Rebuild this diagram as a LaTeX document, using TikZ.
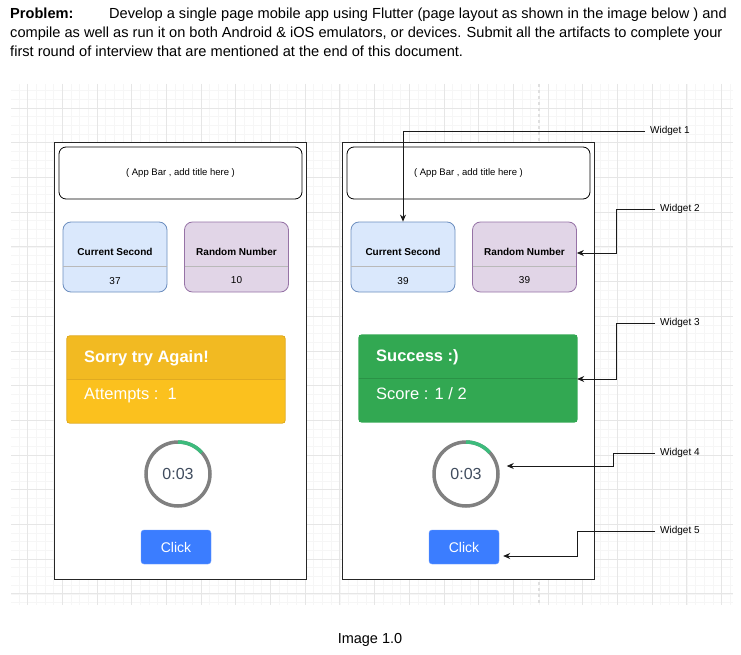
\documentclass[tikz,border=0pt]{standalone}
\usepackage{fontspec}
\setmainfont{Liberation Sans}
\usetikzlibrary{arrows.meta}
\definecolor{secblue}{HTML}{DAE8FC}
\definecolor{secblueline}{HTML}{6C8EBF}
\definecolor{randlilac}{HTML}{E1D5E7}
\definecolor{randlilacline}{HTML}{9673A6}
\definecolor{amberhead}{RGB}{242,186,34}
\definecolor{amberbody}{RGB}{251,193,30}
\definecolor{amberline}{RGB}{224,170,32}
\definecolor{okgreen}{RGB}{50,168,82}
\definecolor{okgreenline}{RGB}{42,146,70}
\definecolor{ringgray}{RGB}{128,128,128}
\definecolor{ringgreen}{RGB}{61,187,124}
\definecolor{clockink}{RGB}{64,76,94}
\definecolor{btnblue}{RGB}{59,125,255}
\definecolor{gridminor}{RGB}{246,246,246}
\definecolor{gridmajor}{RGB}{230,230,230}

\tikzset{
  headline/.style={anchor=base west, inner sep=0pt, font=\fontsize{14.6}{17}\selectfont},
  phonebox/.style={draw=black!85, fill=white, line width=1pt, minimum width=252pt, minimum height=436pt},
  appbar/.style={draw=black, fill=white, rounded corners=7pt, line width=0.8pt,
    minimum width=243pt, minimum height=52pt, font=\fontsize{9.5}{11}\selectfont},
  infobox/.style={rounded corners=8pt, line width=0.8pt, minimum width=104pt, minimum height=70pt},
  divider/.style={gray!55, line width=0.7pt},
  boxtitle/.style={font=\fontsize{10}{12}\selectfont\bfseries},
  boxvalue/.style={font=\fontsize{10}{12}\selectfont},
  cardbox/.style={minimum width=218pt, minimum height=87pt},
  cardtitle/.style={anchor=west, inner sep=0pt, text=white, font=\fontsize{16.5}{19}\selectfont\bfseries},
  cardtext/.style={anchor=west, inner sep=0pt, text=white, font=\fontsize{16.5}{19}\selectfont},
  timer/.style={circle, draw=ringgray, line width=3.5pt, minimum size=64pt, text=clockink,
    font=\fontsize{16}{19}\selectfont},
  clickbtn/.style={fill=btnblue, draw=btnblue!75!white, rounded corners=3pt, minimum width=70pt,
    minimum height=34pt, text=white, font=\fontsize{14}{17}\selectfont},
  wlabel/.style={anchor=west, inner xsep=5pt, font=\fontsize{10}{12}\selectfont},
  pointer/.style={->, line width=0.8pt, black!90}
}

\begin{document}
\begin{tikzpicture}[x=1pt, y=-1pt, >={Stealth[length=7pt, width=6pt]}]
\useasboundingbox (0,0) rectangle (741,655);

% background grid
\foreach \i in {-1,...,81}
  \draw[gridminor, line width=0.6pt] ({27.5+8.675*\i},84) -- ({27.5+8.675*\i},605);
\foreach \j in {-2,...,57}
  \draw[gridminor, line width=0.6pt] (11,{108+8.675*\j}) -- (733,{108+8.675*\j});
\foreach \i in {0,...,20}
  \draw[gridmajor, line width=0.8pt] ({27.5+34.7*\i},84) -- ({27.5+34.7*\i},605);
\foreach \j in {0,...,14}
  \draw[gridmajor, line width=0.8pt] (11,{108+34.7*\j}) -- (733,{108+34.7*\j});
\draw[gray!25, line width=1.4pt, dash pattern=on 3pt off 3pt] (539,84) -- (539,605);

% problem statement
\node[headline] (line1) at (10,19) {\makebox[99pt][l]{\textbf{Problem:}}Develop a single page mobile app using Flutter (page layout as shown in the image below ) and};
\node[headline] (line2) at (10,38) {compile as well as run it on both Android \& iOS emulators, or devices. Submit all the artifacts to complete your};
\node[headline] (line3) at (10,57) {first round of interview that are mentioned at the end of this document.};

% the two phone screens
\foreach \ox/\k/\csv/\rnv in {0/1/37/10, 288/2/39/39} {
  \node[phonebox] (phone\k) at ({180+\ox},361) {};
  \node[appbar] (bar\k) at ({180.5+\ox},173) {( App Bar , add title here )};
  \node[infobox, draw=secblueline, fill=secblue] (cs\k) at ({115+\ox},257) {};
  \node[infobox, draw=randlilacline, fill=randlilac] (rn\k) at ({236.5+\ox},257) {};
  \draw[divider] ({63.4+\ox},266) -- ({166.6+\ox},266);
  \draw[divider] ({184.9+\ox},266) -- ({288.1+\ox},266);
  \node[boxtitle] (cst\k) at ({115+\ox},252) {Current Second};
  \node[boxvalue] (csv\k) at ({115+\ox},281) {\csv};
  \node[boxtitle] (rnt\k) at ({236.5+\ox},252) {Random Number};
  \node[boxvalue] (rnv\k) at ({236.5+\ox},280) {\rnv};
  \node[timer] (timer\k) at ({178+\ox},474) {0:03};
  \draw[ringgreen, line width=3.5pt] (timer\k.center) ++(0,-32) arc[start angle=-90, end angle=-42, radius=32];
  \node[clickbtn] (btn\k) at ({176+\ox},547) {Click};
}

% result cards
\node[cardbox, fill=amberbody] (card1) at (176,379.5) {};
\begin{scope}
  \clip (card1.north west) rectangle (card1.east);
  \fill[amberhead, rounded corners=3pt] (card1.north west) rectangle (card1.south east);
\end{scope}
\draw[amberline, line width=0.8pt, rounded corners=3pt] (card1.north west) rectangle (card1.south east);
\draw[amberline, line width=0.8pt] (card1.west) -- (card1.east);
\node[cardtitle] (msg1) at (84,358) {Sorry try Again!};
\node[cardtext] (score1) at (84,396) {Attempts :\ \ 1};

\node[cardbox, fill=okgreen] (card2) at (468,378.5) {};
\draw[okgreen, line width=0.8pt, rounded corners=3pt] (card2.north west) rectangle (card2.south east);
\draw[okgreenline, line width=0.8pt] (card2.west) -- (card2.east);
\node[cardtitle] (msg2) at (376,357) {Success :)};
\node[cardtext] (score2) at (376,394) {Score : 1 / 2};

% widget call-outs
\node[wlabel] (w1) at (645,131) {Widget 1};
\node[wlabel] (w2) at (655,209) {Widget 2};
\node[wlabel] (w3) at (655,323) {Widget 3};
\node[wlabel] (w4) at (655,453) {Widget 4};
\node[wlabel] (w5) at (655,531) {Widget 5};

\coordinate (b2) at (616,253);
\coordinate (b3) at (616,379);
\coordinate (b4) at (613,466);
\coordinate (b5) at (577,556);

\draw[pointer] (w1.west) -| (cs2.north);
\draw[pointer] (w2.west) -| (b2) -- (b2 -| rn2.east);
\draw[pointer] (w3.west) -| (b3) -- (b3 -| card2.east);
\draw[pointer, shorten >=7pt] (w4.west) -| (b4) -- (b4 -| timer2.east);
\draw[pointer, shorten >=4pt] (w5.west) -| (b5) -- (b5 -| btn2.east);

\node[font=\fontsize{14.5}{17}\selectfont] (caption) at (370,640) {Image 1.0};
\end{tikzpicture}
\end{document}
